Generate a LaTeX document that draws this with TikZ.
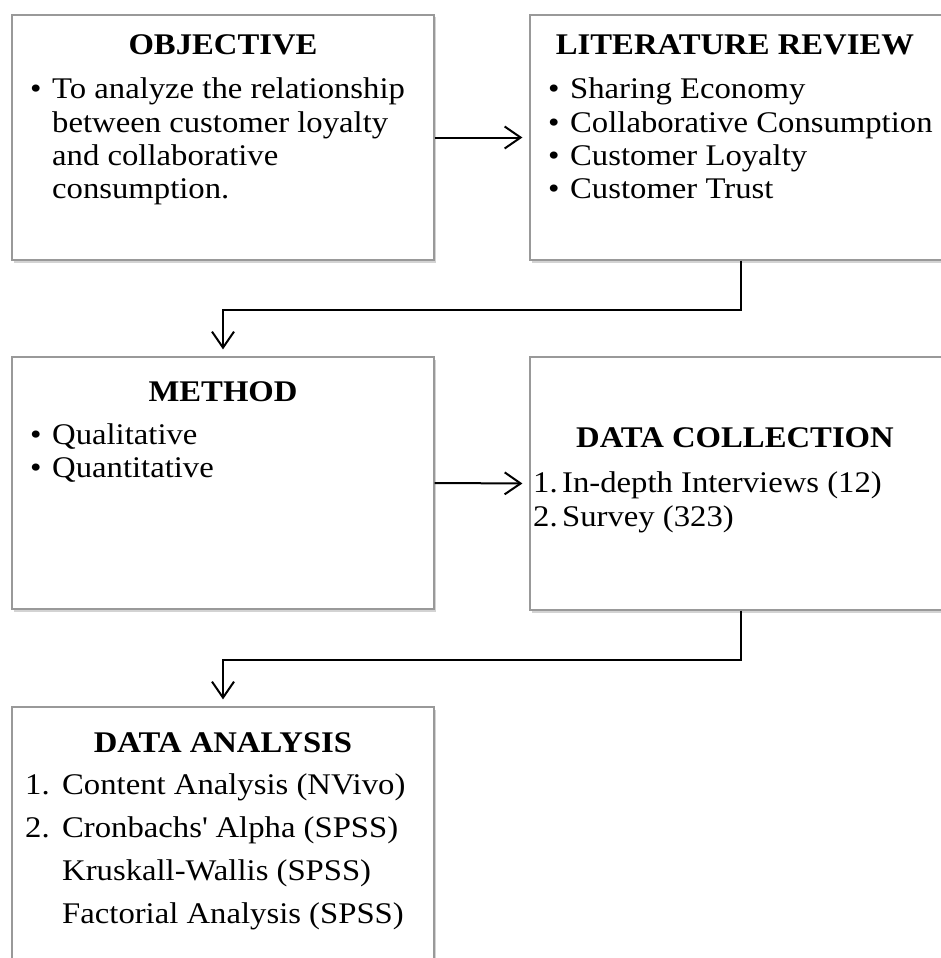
\documentclass[tikz,border=0pt]{standalone}
\usepackage{fontspec}
\setmainfont{Liberation Serif}[FakeStretch=1.09]
\usetikzlibrary{arrows.meta,shadows}

\tikzset{
  box/.style={draw=black!40, line width=1.2pt, fill=white, inner sep=0pt,
    minimum width=422pt,
    drop shadow={shadow xshift=1.5pt, shadow yshift=-2.5pt, opacity=0.35}},
  head/.style={font=\fontsize{30}{36}\selectfont\bfseries, anchor=base, inner sep=0pt},
  entry/.style={anchor=base west, inner sep=0pt},
  flow/.style={line width=2pt,
    -{Straight Barb[length=16pt, width=22pt, line width=2pt]}, shorten >=7pt},
}
\newcommand{\bul}{\makebox[22pt][l]{\textbullet}}
\newcommand{\numbox}[2]{\makebox[#1][l]{#2}}

\begin{document}
\begin{tikzpicture}[x=1pt, y=-1pt, font=\fontsize{30}{36}\selectfont]

  \useasboundingbox (0,0) rectangle (940,958);

  % --- 1. boxes ---
  \node[box, minimum height=245pt] (obj)  at (223,137.5) {};
  \node[box, minimum height=245pt] (lit)  at (741,137.5) {};
  \node[box, minimum height=252pt] (meth) at (223,483)   {};
  \node[box, minimum height=253pt] (coll) at (741,483.5) {};
  \node[box, minimum height=260pt] (ana)  at (223,837)   {};

  % --- 2. objective ---
  \node[head] (objhead) at (223,55) {OBJECTIVE};
  \node[entry] (obj1) at (30,99)  {\bul To analyze the relationship};
  \node[entry] (obj2) at (52,132) {between customer loyalty};
  \node[entry] (obj3) at (52,165) {and collaborative};
  \node[entry] (obj4) at (52,198) {consumption.};

  % --- 3. literature review ---
  \node[head] (lithead) at (735,55) {LITERATURE REVIEW};
  \node[entry] (lit1) at (548,99)  {\bul Sharing Economy};
  \node[entry] (lit2) at (548,132) {\bul Collaborative Consumption};
  \node[entry] (lit3) at (548,165) {\bul Customer Loyalty};
  \node[entry] (lit4) at (548,198) {\bul Customer Trust};

  % --- 4. method ---
  \node[head] (methhead) at (223,401) {METHOD};
  \node[entry] (meth1) at (30,444) {\bul Qualitative};
  \node[entry] (meth2) at (30,477) {\bul Quantitative};

  % --- 5. data collection ---
  \node[head] (collhead) at (735,447) {DATA COLLECTION};
  \node[entry] (coll1) at (533,492) {\numbox{29pt}{1.}In-depth Interviews (12)};
  \node[entry] (coll2) at (533,526) {\numbox{29pt}{2.}Survey (323)};

  % --- 6. data analysis ---
  \node[head] (anahead) at (223,752) {DATA ANALYSIS};
  \node[entry] (ana1) at (25,794) {\numbox{37pt}{1.}Content Analysis (NVivo)};
  \node[entry] (ana2) at (25,837) {\numbox{37pt}{2.}Cronbachs\textquotesingle{} Alpha (SPSS)};
  \node[entry] (ana3) at (25,880) {\numbox{37pt}{}Kruskall-Wallis (SPSS)};
  \node[entry] (ana4) at (25,923) {\numbox{37pt}{}Factorial Analysis (SPSS)};

  % --- 7. connectors ---
  \draw[flow] (obj.east) -- (lit.west);
  \draw[flow] (lit.south) -- ++(0,49) -| (meth.north);
  \draw[flow] (meth.east) -- (coll.west);
  \draw[flow] (coll.south) -- ++(0,49) -| (ana.north);

\end{tikzpicture}
\end{document}
